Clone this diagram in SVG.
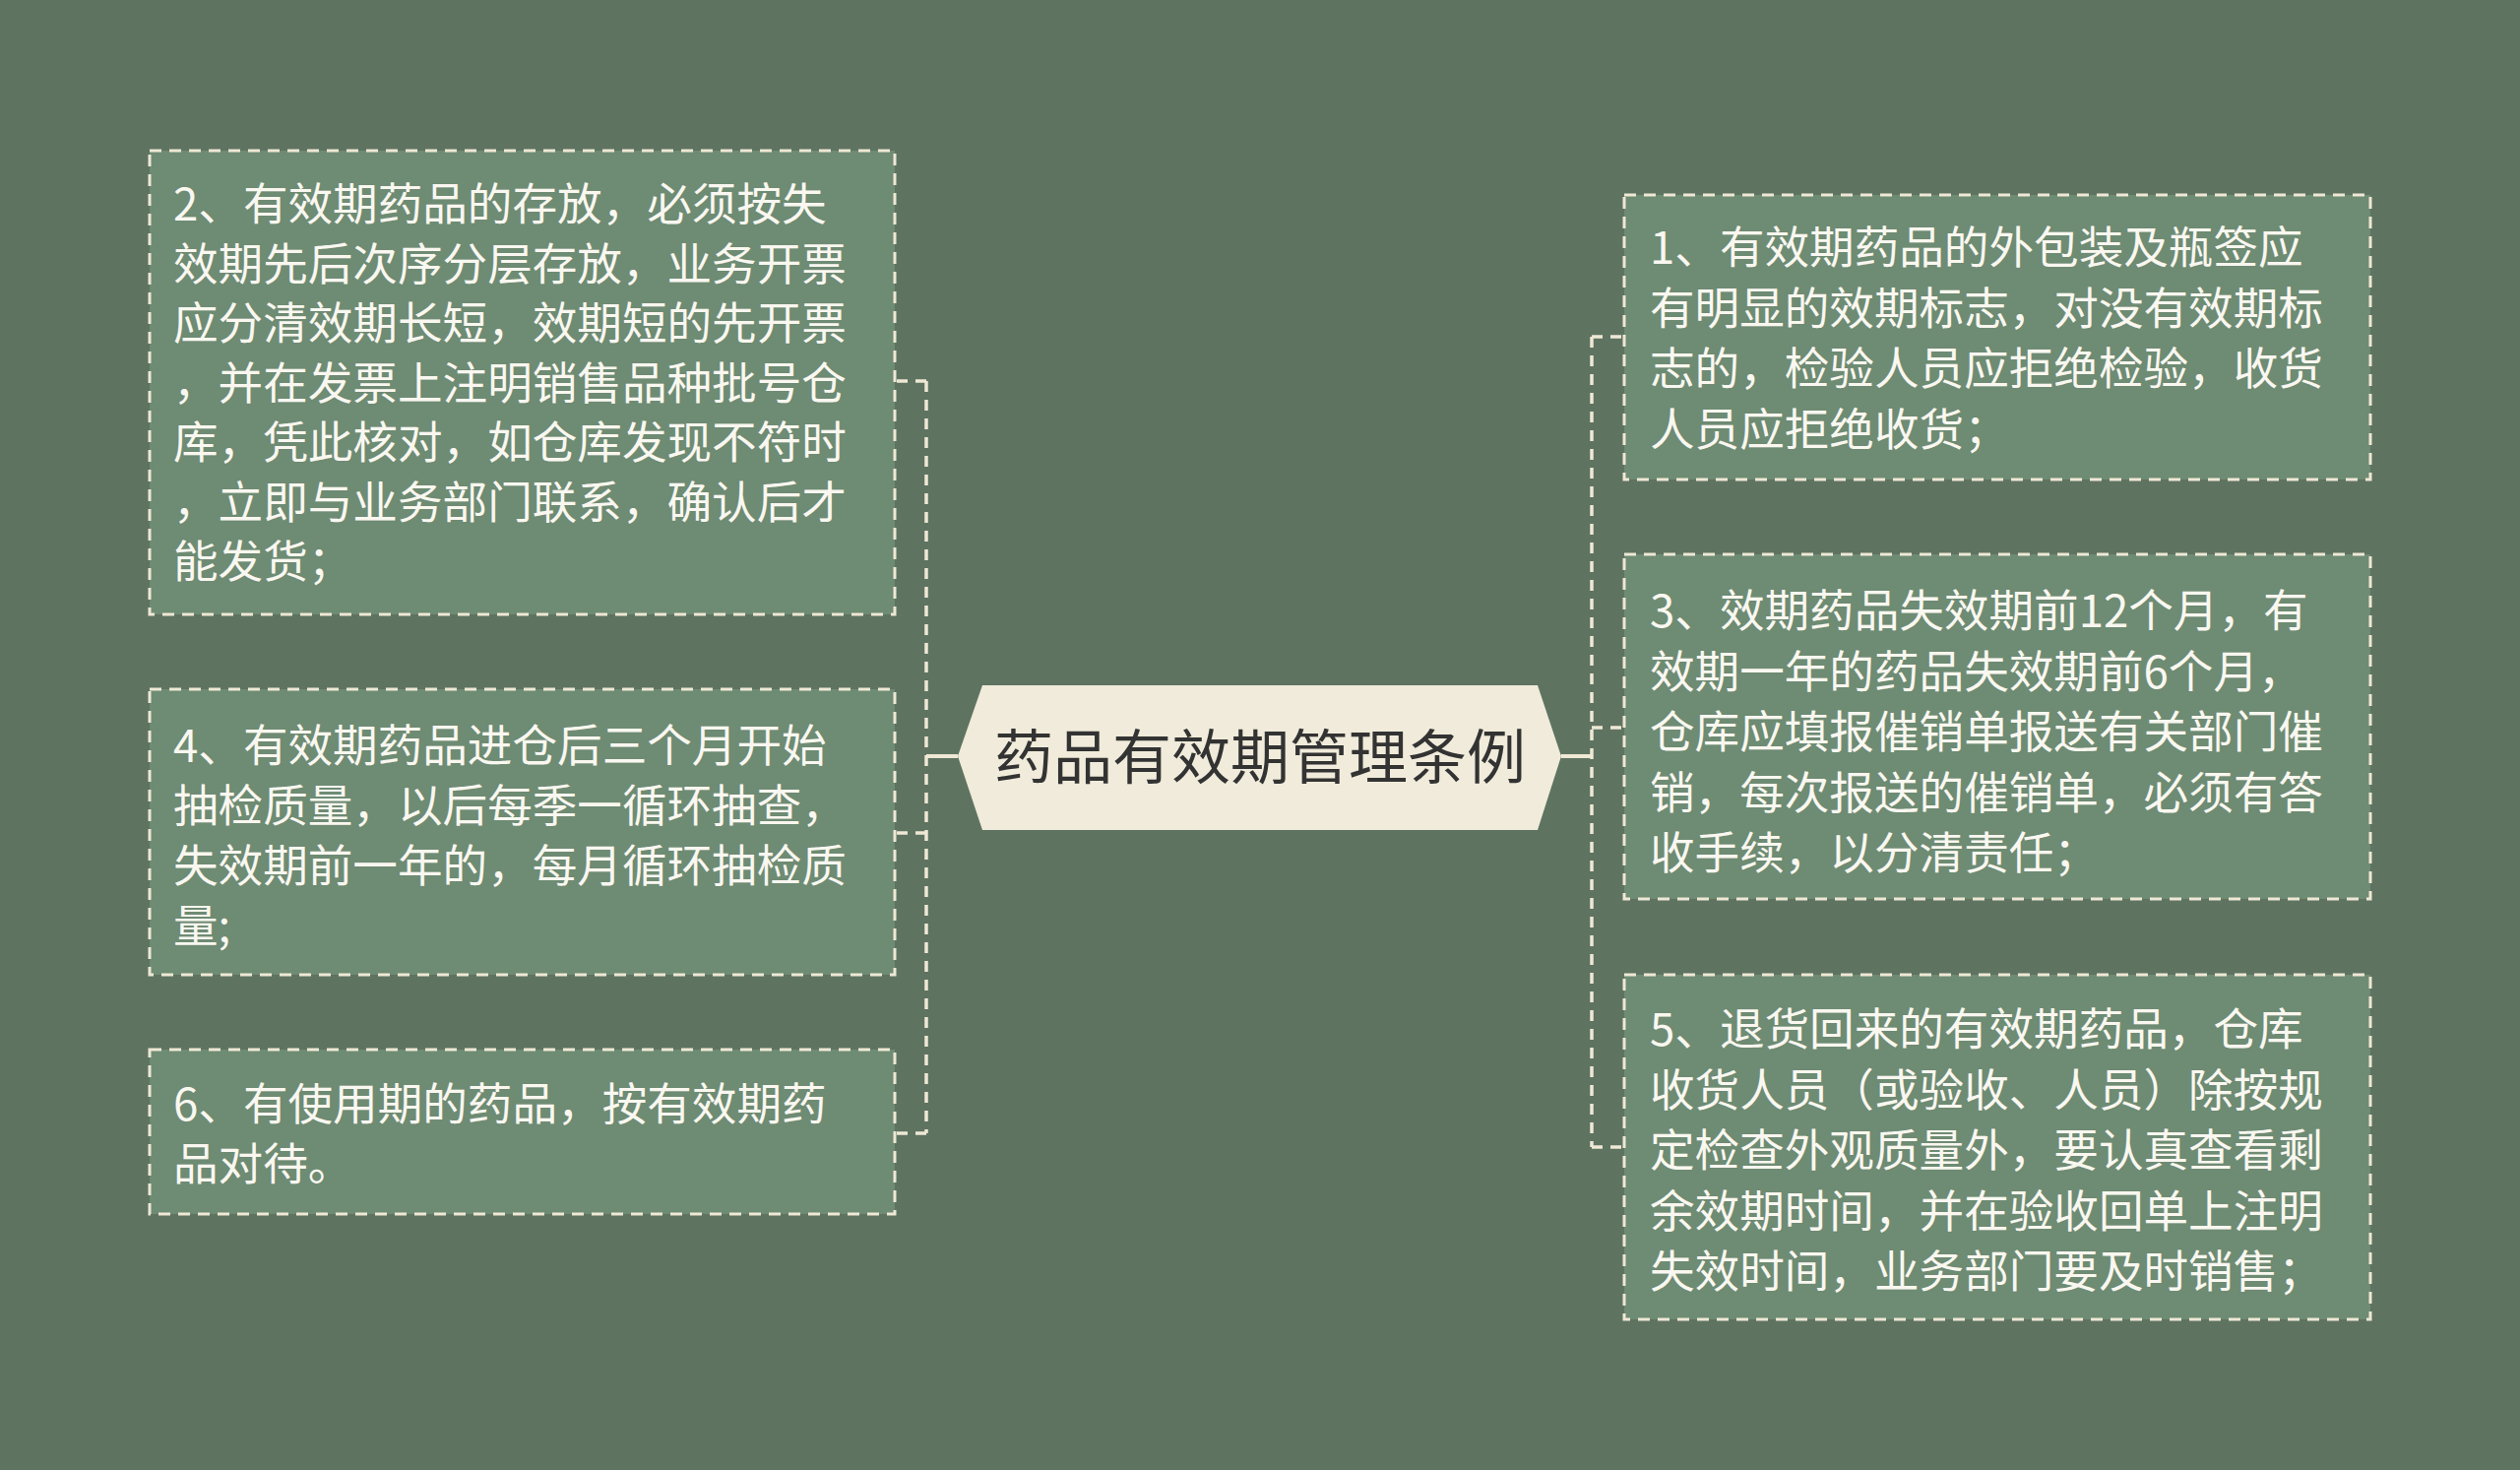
<svg xmlns="http://www.w3.org/2000/svg" width="2560" height="1493" viewBox="0 0 2560 1493">
<style>
.box{fill:#6e8b73;stroke:#eee8d5;stroke-width:3;stroke-dasharray:12 8}
.t{font-family:"Noto Sans CJK SC","Noto Sans",sans-serif;font-size:45.6px;fill:#f9f7f0}
.dash{fill:none;stroke:#eee8d5;stroke-width:3.5;stroke-dasharray:11 8}
.solid{fill:none;stroke:#eee8d5;stroke-width:4}
.ct{font-family:"Noto Sans CJK SC","Noto Sans",sans-serif;font-size:60px;fill:#333333}
</style>
<rect width="2560" height="1493" fill="#5f7361"/>
<g id="connectors">
<path class="solid" d="M973,768 H941"/>
<path class="solid" d="M1586,768 H1617"/>
<path class="dash" d="M941,387 V1151"/>
<path class="dash" d="M941,387 H909"/>
<path class="dash" d="M941,846 H909"/>
<path class="dash" d="M941,1151 H909"/>
<path class="dash" d="M1617,342 V1165"/>
<path class="dash" d="M1617,342 H1650"/>
<path class="dash" d="M1617,739 H1650"/>
<path class="dash" d="M1617,1165 H1650"/>
</g>
<g id="center">
<polygon points="998,696 1562,696 1586,768 1562,843 998,843 973,768" fill="#f0ebda"/>
<text class="ct" x="1280" y="791" text-anchor="middle">药品有效期管理条例</text>
</g>
<g id="node2">
<rect class="box" x="152" y="153" width="757" height="471"/>
<text class="t" x="176" y="224">
<tspan x="176">2、有效期药品的存放，必须按失</tspan>
<tspan x="176" dy="60.5">效期先后次序分层存放，业务开票</tspan>
<tspan x="176" dy="60.5">应分清效期长短，效期短的先开票</tspan>
<tspan x="176" dy="60.5">，并在发票上注明销售品种批号仓</tspan>
<tspan x="176" dy="60.5">库，凭此核对，如仓库发现不符时</tspan>
<tspan x="176" dy="60.5">，立即与业务部门联系，确认后才</tspan>
<tspan x="176" dy="60.5">能发货；</tspan>
</text>
</g>
<g id="node4">
<rect class="box" x="152" y="700" width="757" height="290"/>
<text class="t" x="176" y="774">
<tspan x="176">4、有效期药品进仓后三个月开始</tspan>
<tspan x="176" dy="61">抽检质量，以后每季一循环抽查，</tspan>
<tspan x="176" dy="61">失效期前一年的，每月循环抽检质</tspan>
<tspan x="176" dy="61">量;</tspan>
</text>
</g>
<g id="node6">
<rect class="box" x="152" y="1066" width="757" height="167"/>
<text class="t" x="176" y="1138">
<tspan x="176">6、有使用期的药品，按有效期药</tspan>
<tspan x="176" dy="61">品对待。</tspan>
</text>
</g>
<g id="node1">
<rect class="box" x="1650" y="198" width="758" height="289"/>
<text class="t" x="1676" y="268">
<tspan x="1676">1、有效期药品的外包装及瓶签应</tspan>
<tspan x="1676" dy="61.5">有明显的效期标志，对没有效期标</tspan>
<tspan x="1676" dy="61.5">志的，检验人员应拒绝检验，收货</tspan>
<tspan x="1676" dy="61.5">人员应拒绝收货；</tspan>
</text>
</g>
<g id="node3">
<rect class="box" x="1650" y="563" width="758" height="350"/>
<text class="t" x="1676" y="637">
<tspan x="1676">3、效期药品失效期前12个月，有</tspan>
<tspan x="1676" dy="61.5">效期一年的药品失效期前6个月，</tspan>
<tspan x="1676" dy="61.5">仓库应填报催销单报送有关部门催</tspan>
<tspan x="1676" dy="61.5">销，每次报送的催销单，必须有答</tspan>
<tspan x="1676" dy="61.5">收手续，以分清责任；</tspan>
</text>
</g>
<g id="node5">
<rect class="box" x="1650" y="990" width="758" height="350"/>
<text class="t" x="1676" y="1062">
<tspan x="1676">5、退货回来的有效期药品，仓库</tspan>
<tspan x="1676" dy="61.5">收货人员（或验收、人员）除按规</tspan>
<tspan x="1676" dy="61.5">定检查外观质量外，要认真查看剩</tspan>
<tspan x="1676" dy="61.5">余效期时间，并在验收回单上注明</tspan>
<tspan x="1676" dy="61.5">失效时间，业务部门要及时销售；</tspan>
</text>
</g>
</svg>
